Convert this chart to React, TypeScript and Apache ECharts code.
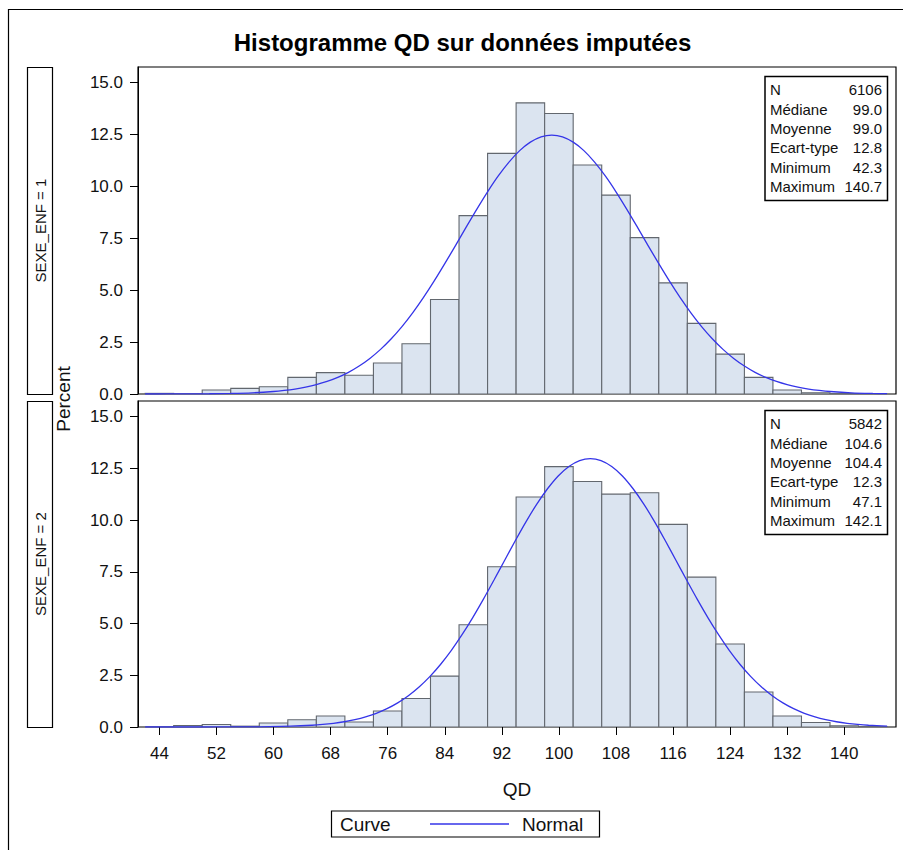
import React, { useEffect, useRef } from "react";
import * as echarts from "echarts";

const binCenters = [44, 48, 52, 56, 60, 64, 68, 72, 76, 80, 84, 88, 92, 96, 100, 104, 108, 112, 116, 120, 124, 128, 132, 136, 140, 144];
const pct1 = [0.03, 0, 0.19, 0.27, 0.35, 0.8, 1.03, 0.9, 1.49, 2.42, 4.55, 8.59, 11.59, 14.02, 13.51, 11.03, 9.58, 7.53, 5.35, 3.4, 1.92, 0.8, 0.19, 0.06, 0.02, 0];
const pct2 = [0, 0.07, 0.12, 0.04, 0.19, 0.35, 0.53, 0.24, 0.77, 1.38, 2.46, 4.94, 7.74, 11.11, 12.58, 11.86, 11.25, 11.32, 9.79, 7.24, 4.01, 1.69, 0.53, 0.22, 0.06, 0.02];
const binWidth = 4;

const curveX1 = [42, 45, 48, 51, 54, 57, 60, 61.5, 63, 64.5, 66, 67.5, 69, 70.5, 72, 73.5, 75, 76.5, 78, 79.5, 81, 82.5, 84, 85.5, 87, 88.5, 90, 91.5, 93, 94.5, 96, 97.5, 99, 100.5, 102, 103.5, 105, 106.5, 108, 109.5, 111, 112.5, 114, 115.5, 117, 118.5, 120, 121.5, 123, 124.5, 126, 127.5, 129, 130.5, 132, 133.5, 135, 136.5, 138, 141, 144, 146];
const curveY1 = [0.0006, 0.0017, 0.0045, 0.011, 0.026, 0.057, 0.12, 0.171, 0.239, 0.33, 0.449, 0.603, 0.8, 1.045, 1.348, 1.714, 2.15, 2.66, 3.246, 3.908, 4.639, 5.433, 6.276, 7.15, 8.036, 8.907, 9.739, 10.503, 11.17, 11.723, 12.13, 12.385, 12.47, 12.385, 12.13, 11.723, 11.17, 10.503, 9.739, 8.907, 8.036, 7.15, 6.276, 5.433, 4.639, 3.908, 3.246, 2.66, 2.15, 1.714, 1.348, 1.045, 0.8, 0.603, 0.449, 0.33, 0.239, 0.171, 0.12, 0.057, 0.026, 0.015];
const curveX2 = [42, 44.4, 47.4, 50.4, 53.4, 56.4, 59.4, 62.4, 65.4, 66.9, 68.4, 69.9, 71.4, 72.9, 74.4, 75.9, 77.4, 78.9, 80.4, 81.9, 83.4, 84.9, 86.4, 87.9, 89.4, 90.9, 92.4, 93.9, 95.4, 96.9, 98.4, 99.9, 101.4, 102.9, 104.4, 105.9, 107.4, 108.9, 110.4, 111.9, 113.4, 114.9, 116.4, 117.9, 119.4, 120.9, 122.4, 123.9, 125.4, 126.9, 128.4, 129.9, 131.4, 132.9, 134.4, 135.9, 137.4, 138.9, 140.4, 141.9, 143.4, 146];
const curveY2 = [0.0, 0.0001, 0.0003, 0.0008, 0.0024, 0.0064, 0.0161, 0.0381, 0.0851, 0.124, 0.179, 0.254, 0.355, 0.488, 0.662, 0.885, 1.166, 1.512, 1.933, 2.434, 3.02, 3.691, 4.446, 5.275, 6.166, 7.102, 8.058, 9.009, 9.923, 10.77, 11.51, 12.13, 12.59, 12.874, 12.97, 12.874, 12.59, 12.13, 11.51, 10.77, 9.923, 9.009, 8.058, 7.102, 6.166, 5.275, 4.446, 3.691, 3.02, 2.434, 1.933, 1.512, 1.166, 0.885, 0.662, 0.488, 0.355, 0.254, 0.179, 0.124, 0.0851, 0.0426];

const xTicks = [44, 52, 60, 68, 76, 84, 92, 100, 108, 116, 124, 132, 140];
const yTicks = [0, 2.5, 5, 7.5, 10, 12.5, 15];

const statLabels = ["N", "Médiane", "Moyenne", "Ecart-type", "Minimum", "Maximum"];
const stats1 = ["6106", "99.0", "99.0", "12.8", "42.3", "140.7"];
const stats2 = ["5842", "104.6", "104.4", "12.3", "47.1", "142.1"];
const strips = ["SEXE_ENF = 1", "SEXE_ENF = 2"];

const titleText = "Histogramme QD sur données imputées";
const yTitle = "Percent";
const xTitle = "QD";
const legendTitle = "Curve";
const legendItem = "Normal";

const FONT = "'Liberation Sans', Arial, sans-serif";
const BAR_FILL = "#dbe4f0";
const BAR_STROKE = "#62676e";
const CURVE = "#3535e8";

const GRID_LEFT = 138;
const GRID_W = 758;
const GRIDS = [
  { top: 67, height: 327 },
  { top: 401, height: 326 },
];

export default function App() {
  const ref = useRef<HTMLDivElement>(null);
  useEffect(() => {
    if (!ref.current) return;
    const chart = echarts.init(ref.current, undefined, { renderer: "svg" });

    const barRender = (params: any, api: any) => {
      const x = api.value(0);
      const y = api.value(1);
      if (!(y > 0)) return null;
      const p0 = api.coord([x - binWidth / 2, y]);
      const p1 = api.coord([x + binWidth / 2, 0]);
      return {
        type: "rect",
        shape: { x: p0[0], y: p0[1], width: p1[0] - p0[0], height: p1[1] - p0[1] },
        style: { fill: BAR_FILL, stroke: BAR_STROKE, lineWidth: 1.1 },
      };
    };

    const xAxisBase = (i: number) => ({
      type: "value",
      gridIndex: i,
      min: 41,
      max: 147.25,
      axisLine: { show: false },
      splitLine: { show: false },
      axisTick:
        i === 1
          ? { show: true, inside: false, length: 8, lineStyle: { color: "#000" }, customValues: xTicks }
          : { show: false },
      axisLabel:
        i === 1
          ? { show: true, margin: 18, fontFamily: FONT, fontSize: 17, color: "#111", customValues: xTicks }
          : { show: false },
      name: i === 1 ? xTitle : "",
      nameLocation: "middle",
      nameGap: 53,
      nameTextStyle: { fontFamily: FONT, fontSize: 19, color: "#111" },
    });

    const yAxisBase = (i: number) => ({
      type: "value",
      gridIndex: i,
      min: 0,
      max: 15.75,
      axisLine: { show: true, lineStyle: { color: "#000" } },
      splitLine: { show: false },
      axisTick: { show: true, inside: false, length: 8, lineStyle: { color: "#000" }, customValues: yTicks },
      axisLabel: {
        show: true,
        margin: 15,
        fontFamily: FONT,
        fontSize: 17,
        color: "#111",
        customValues: yTicks,
        formatter: (v: number) => v.toFixed(1),
      },
    });

    const graphics: any[] = [];
    graphics.push({
      type: "rect",
      shape: { x: 8.5, y: 9.5, width: 1000, height: 1000 },
      style: { fill: "none", stroke: "#000", lineWidth: 1.2 },
      silent: true,
      z: 0,
    });
    graphics.push({
      type: "text",
      x: 462.5,
      y: 42,
      style: {
        text: titleText,
        font: `bold 24px ${FONT}`,
        fill: "#000",
        textAlign: "center",
        textVerticalAlign: "middle",
      },
    });
    graphics.push({
      type: "text",
      x: 63,
      y: 399,
      rotation: Math.PI / 2,
      style: {
        text: yTitle,
        font: `19px ${FONT}`,
        fill: "#111",
        textAlign: "center",
        textVerticalAlign: "middle",
      },
    });

    const statsSets = [stats1, stats2];
    GRIDS.forEach((g, i) => {
      graphics.push({
        type: "rect",
        shape: { x: 27.5, y: g.top + 0.5, width: 25, height: g.height },
        style: { fill: "#fff", stroke: "#000", lineWidth: 1.2 },
      });
      graphics.push({
        type: "text",
        x: 40,
        y: g.top + g.height / 2,
        rotation: Math.PI / 2,
        style: {
          text: strips[i],
          font: `15px ${FONT}`,
          fill: "#111",
          textAlign: "center",
          textVerticalAlign: "middle",
        },
      });
      const bx = 765;
      const by = g.top + 9.5;
      graphics.push({
        type: "rect",
        shape: { x: bx, y: by, width: 122.5, height: 124 },
        style: { fill: "#fff", stroke: "#000", lineWidth: 1.5 },
        z: 50,
      });
      statLabels.forEach((lab, k) => {
        const ry = by + 13.3 + k * 19.35;
        graphics.push({
          type: "text",
          x: bx + 5,
          y: ry,
          z: 51,
          style: { text: lab, font: `15px ${FONT}`, fill: "#111", textAlign: "left", textVerticalAlign: "middle" },
        });
        graphics.push({
          type: "text",
          x: bx + 117,
          y: ry,
          z: 51,
          style: {
            text: statsSets[i][k],
            font: `15px ${FONT}`,
            fill: "#111",
            textAlign: "right",
            textVerticalAlign: "middle",
          },
        });
      });
    });

    graphics.push({
      type: "rect",
      shape: { x: 331.5, y: 811, width: 268, height: 26 },
      style: { fill: "#fff", stroke: "#000", lineWidth: 1.2 },
    });
    graphics.push({
      type: "text",
      x: 340,
      y: 824,
      style: { text: legendTitle, font: `19px ${FONT}`, fill: "#111", textAlign: "left", textVerticalAlign: "middle" },
    });
    graphics.push({
      type: "line",
      shape: { x1: 430, y1: 824, x2: 509, y2: 824 },
      style: { stroke: CURVE, lineWidth: 1.3 },
    });
    graphics.push({
      type: "text",
      x: 522,
      y: 824,
      style: { text: legendItem, font: `19px ${FONT}`, fill: "#111", textAlign: "left", textVerticalAlign: "middle" },
    });

    const option: any = {
      animation: false,
      backgroundColor: "#fff",
      grid: GRIDS.map((g) => ({
        left: GRID_LEFT,
        top: g.top,
        width: GRID_W,
        height: g.height,
        show: true,
        borderColor: "#000",
        borderWidth: 1.2,
        backgroundColor: "transparent",
        containLabel: false,
      })),
      xAxis: [xAxisBase(0), xAxisBase(1)],
      yAxis: [yAxisBase(0), yAxisBase(1)],
      series: [
        {
          type: "custom",
          xAxisIndex: 0,
          yAxisIndex: 0,
          renderItem: barRender,
          encode: { x: 0, y: 1 },
          data: binCenters.map((c, i) => [c, pct1[i]]),
          clip: true,
          z: 2,
        },
        {
          type: "custom",
          xAxisIndex: 1,
          yAxisIndex: 1,
          renderItem: barRender,
          encode: { x: 0, y: 1 },
          data: binCenters.map((c, i) => [c, pct2[i]]),
          clip: true,
          z: 2,
        },
        {
          type: "line",
          name: legendItem,
          xAxisIndex: 0,
          yAxisIndex: 0,
          data: curveX1.map((x, i) => [x, curveY1[i]]),
          smooth: 0.3,
          showSymbol: false,
          lineStyle: { color: CURVE, width: 1.3 },
          z: 3,
        },
        {
          type: "line",
          name: legendItem,
          xAxisIndex: 1,
          yAxisIndex: 1,
          data: curveX2.map((x, i) => [x, curveY2[i]]),
          smooth: 0.3,
          showSymbol: false,
          lineStyle: { color: CURVE, width: 1.3 },
          z: 3,
        },
      ],
      graphic: graphics,
    };
    chart.setOption(option);
    return () => chart.dispose();
  }, []);

  return (
    <div
      ref={ref}
      style={{ position: "absolute", left: 0, top: 0, width: 903, height: 850, background: "#fff" }}
    />
  );
}
